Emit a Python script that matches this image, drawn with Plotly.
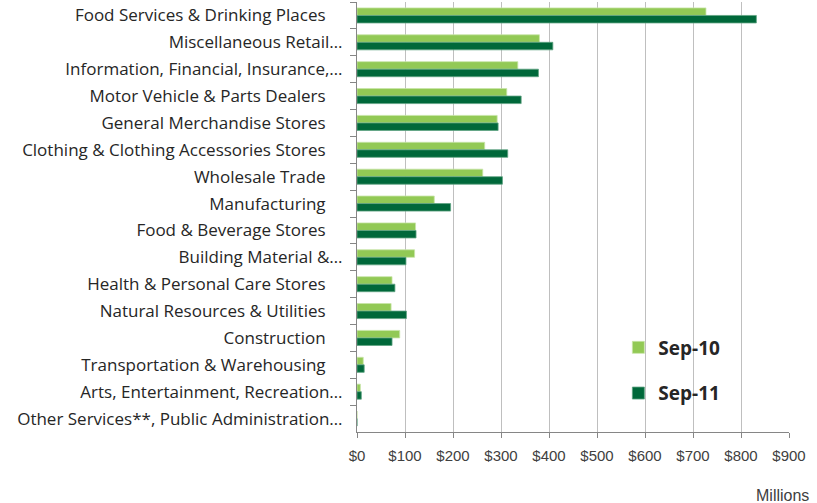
import plotly.graph_objects as go

categories = [
    "Food Services & Drinking Places",
    "Miscellaneous Retail…",
    "Information, Financial, Insurance,…",
    "Motor Vehicle & Parts Dealers",
    "General Merchandise Stores",
    "Clothing & Clothing Accessories Stores",
    "Wholesale Trade",
    "Manufacturing",
    "Food & Beverage Stores",
    "Building Material &…",
    "Health & Personal Care Stores",
    "Natural Resources & Utilities",
    "Construction",
    "Transportation & Warehousing",
    "Arts, Entertainment, Recreation…",
    "Other Services**, Public Administration…",
]
sep10 = [727, 380, 335, 312, 292, 266, 262, 161, 122, 120, 73, 71, 89, 13, 7, 0]
sep11 = [832, 408, 378, 342, 294, 314, 303, 195, 123, 102, 79, 103, 73, 15, 9, 0]
series_names = ["Sep-10", "Sep-11"]
x_ticks = list(range(0, 1000, 100))

# labels that are not truncated get a little trailing room like the original
labels = [c if c.endswith("…") else c + "\u2002\u2002" for c in categories]

fig = go.Figure()
fig.add_trace(go.Bar(
    y=labels, x=sep10, orientation="h", name=series_names[0],
    marker=dict(color="#92C955", line=dict(color="#C8E4A8", width=0.8)),
    legendgroup="a",
))
fig.add_trace(go.Bar(
    y=labels, x=sep11, orientation="h", name=series_names[1],
    marker=dict(color="#00683A", line=dict(color="#5FA383", width=0.8)),
    legendgroup="b",
))

fig.update_layout(
    width=817, height=503,
    margin=dict(l=357, r=28, t=2, b=71),
    paper_bgcolor="white", plot_bgcolor="white",
    barmode="group", bargap=0.44, bargroupgap=0,
    showlegend=True,
    legend=dict(
        x=0.605, y=0.143, xanchor="left", yanchor="middle",
        traceorder="grouped", tracegroupgap=18,
        font=dict(family="Open Sans, Lato, sans-serif", size=19, color="#262626",
                  weight="bold"),
        bgcolor="rgba(0,0,0,0)",
    ),
    annotations=[dict(
        text="Millions", xref="paper", yref="paper", x=1.051, y=-0.124,
        xanchor="right", yanchor="top", showarrow=False,
        font=dict(family="Liberation Sans, Arial, sans-serif", size=16, color="#404040"),
    )],
)
fig.update_xaxes(
    range=[0, 900], tickvals=x_ticks, ticktext=[f"${v}" for v in x_ticks],
    showgrid=True, gridcolor="#BFBFBF", gridwidth=1,
    showline=True, linecolor="#868686", linewidth=1,
    ticks="outside", ticklen=5, tickcolor="#868686",
    ticklabelstandoff=5,
    tickfont=dict(family="Liberation Sans, Arial, sans-serif", size=15, color="#404040"),
    zeroline=False, fixedrange=True,
)
fig.update_yaxes(
    type="category", autorange="reversed",
    showgrid=False, showline=True, linecolor="#868686", linewidth=1,
    ticks="outside", ticklen=6, tickcolor="#868686", tickson="boundaries",
    ticklabelstandoff=10,
    tickfont=dict(family="Open Sans, Lato, sans-serif", size=17, color="#262626"),
    fixedrange=True,
)

fig.write_html("out.html", config={"displayModeBar": False},
               post_script="document.body.style.margin='0';")
